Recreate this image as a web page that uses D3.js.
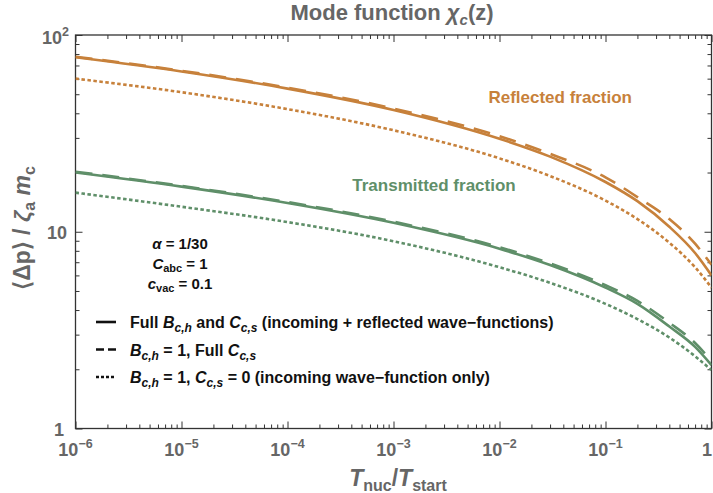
<!DOCTYPE html>
<html><head><meta charset="utf-8">
<script src="https://cdn.jsdelivr.net/npm/d3@7"></script>
<style>
body{margin:0;background:#fff;}
svg text{font-family:"Liberation Sans",Arial,sans-serif;font-weight:bold;}
</style></head>
<body><svg id="c" width="713" height="493"></svg>
<script>
// ---- data ----
const tRatio = [1e-6, 1e-5, 1e-4, 1e-3, 1e-2, 3e-2, 1e-1, 0.2, 0.4, 0.7, 1];
const reflFull   = [77, 65.3, 53.4, 41.6, 29.7, 24.1, 17.9, 14.3, 10.6, 7.8, 6.0];
const reflDashed = [77.5, 65.8, 54.0, 42.3, 30.6, 24.9, 18.9, 15.0, 11.6, 8.7, 6.8];
const reflDotted = [60, 51.2, 42.0, 32.8, 23.6, 19.2, 14.4, 11.6, 8.8, 6.6, 5.2];
const transFull   = [20.0, 16.95, 14.0, 11.1, 8.2, 6.77, 5.2, 4.3, 3.3, 2.6, 2.1];
const transDashed = [20.2, 17.1, 14.15, 11.25, 8.35, 6.9, 5.35, 4.45, 3.45, 2.72, 2.2];
const transDotted = [15.8, 13.4, 11.2, 8.95, 6.6, 5.5, 4.3, 3.6, 2.9, 2.33, 1.98];
const xTickExps = [-6, -5, -4, -3, -2, -1, 0];
const yTickExps = [0, 1, 2];
const legendLabels = ["full", "dashed", "dotted"];
const paramLines = ["alpha", "Cabc", "cvac"];

const orange = "#c7813b", green = "#5f8f69", gray = "#666666";
const L = 75.5, R = 711.5, T = 35, B = 428.5;

const svg = d3.select("#c");
const x = d3.scaleLog().domain([1e-6, 1]).range([L, R]);
const y = d3.scaleLog().domain([1, 100]).range([B, T]);

svg.append("clipPath").attr("id","clip").append("rect")
  .attr("x", L).attr("y", T).attr("width", R-L).attr("height", B-T);

const xMinor = [];
for (let e = -6; e < 0; e++) for (let k = 2; k <= 9; k++) xMinor.push(k * Math.pow(10, e));
const yMinor = [];
for (let e = 0; e < 2; e++) for (let k = 2; k <= 9; k++) yMinor.push(k * Math.pow(10, e));
const xMajor = xTickExps.map(e => Math.pow(10, e));
const yMajor = yTickExps.map(e => Math.pow(10, e));

const frameCol = "#333";
function addAxis(axisFn, scale, vals, size, transform){
  const g = svg.append("g").attr("transform", transform)
    .call(axisFn(scale).tickValues(vals).tickSize(size).tickFormat(""));
  g.select(".domain").remove();
  g.selectAll("line").attr("stroke", frameCol).attr("stroke-width", 1);
}
addAxis(d3.axisBottom, x, xMajor, -7, `translate(0,${B})`);
addAxis(d3.axisBottom, x, xMinor, -4, `translate(0,${B})`);
addAxis(d3.axisTop, x, xMajor, -7, `translate(0,${T})`);
addAxis(d3.axisTop, x, xMinor, -4, `translate(0,${T})`);
addAxis(d3.axisLeft, y, yMajor, -7, `translate(${L},0)`);
addAxis(d3.axisLeft, y, yMinor, -4, `translate(${L},0)`);
addAxis(d3.axisRight, y, yMajor, -7, `translate(${R},0)`);
addAxis(d3.axisRight, y, yMinor, -4, `translate(${R},0)`);

svg.append("rect").attr("x", L).attr("y", T).attr("width", R-L).attr("height", B-T)
  .attr("fill","none").attr("stroke", frameCol).attr("stroke-width", 1.3);

const line = d3.line().x(d => x(d[0])).y(d => y(d[1])).curve(d3.curveMonotoneX);
const series = [
  {v: reflFull, c: orange, dash: null},
  {v: reflDashed, c: orange, dash: "17,10"},
  {v: reflDotted, c: orange, dash: "3.5,2.5"},
  {v: transFull, c: green, dash: null},
  {v: transDashed, c: green, dash: "17,10"},
  {v: transDotted, c: green, dash: "3.5,2.5"},
];
const cg = svg.append("g").attr("clip-path","url(#clip)");
series.forEach(s => {
  cg.append("path").datum(tRatio.map((t,i)=>[t, s.v[i]]))
    .attr("d", line).attr("fill","none").attr("stroke", s.c)
    .attr("stroke-width", 2.6).attr("stroke-dasharray", s.dash);
});

// tick labels
const xl = svg.append("g").attr("fill", gray).attr("font-size", 18);
xTickExps.forEach(e => {
  const t = xl.append("text").attr("x", x(Math.pow(10,e))).attr("y", 456).attr("text-anchor", e===0 ? "end" : "middle");
  if (e === 0) { t.attr("x", 712).text("1"); }
  else { t.append("tspan").text("10"); t.append("tspan").attr("dy", -8).attr("font-size", 12.5).text("\u2212" + (-e)); }
});
yTickExps.forEach(e => {
  const t = xl.append("text").attr("x", 67).attr("y", y(Math.pow(10,e)) + 7).attr("text-anchor","end");
  if (e === 0) t.attr("x", 64).text("1");
  else if (e === 1) t.text("10");
  else { t.attr("x", 42).attr("y", 44).attr("text-anchor","start"); t.append("tspan").text("10"); t.append("tspan").attr("dy", -8).attr("font-size", 12.5).text("2"); }
});

// title
const title = svg.append("text").attr("x", 392).attr("y", 20).attr("text-anchor","middle")
  .attr("fill", gray).attr("font-size", 22);
title.append("tspan").text("Mode function ");
title.append("tspan").attr("font-style","italic").text("\u03c7");
title.append("tspan").attr("font-style","italic").attr("font-size", 15).attr("dy", 5).text("c");
title.append("tspan").attr("dy", -5).text("(z)");

// x label
const xlab = svg.append("text").attr("x", 398).attr("y", 486).attr("text-anchor","middle")
  .attr("fill", gray).attr("font-size", 23);
xlab.append("tspan").attr("font-style","italic").text("T");
xlab.append("tspan").attr("font-size", 16).attr("dy", 5).text("nuc");
xlab.append("tspan").attr("dy", -5).text("/");
xlab.append("tspan").attr("font-style","italic").text("T");
xlab.append("tspan").attr("font-size", 16).attr("dy", 5).text("start");

// y label
const ylab = svg.append("text").attr("transform", "translate(30,228) rotate(-90)").attr("text-anchor","middle")
  .attr("fill", gray).attr("font-size", 23);
ylab.append("tspan").text("\u27e8\u0394p\u27e9 / ");
ylab.append("tspan").attr("font-style","italic").text("\u03b6");
ylab.append("tspan").attr("font-size", 16).attr("dy", 5).text("a");
ylab.append("tspan").attr("dy", -5).text(" ");
ylab.append("tspan").attr("font-style","italic").text("m");
ylab.append("tspan").attr("font-size", 16).attr("dy", 5).text("c");

// annotations
svg.append("text").attr("x", 632).attr("y", 103).attr("text-anchor","end")
  .attr("fill", orange).attr("font-size", 17).text("Reflected fraction");
svg.append("text").attr("x", 434).attr("y", 191).attr("text-anchor","middle")
  .attr("fill", green).attr("font-size", 17).text("Transmitted fraction");

// parameter block
const pg = svg.append("g").attr("font-size", 15).attr("fill", "#111");
const pY = [249, 269, 289];
paramLines.forEach((k, i) => {
  const t = pg.append("text").attr("x", 180).attr("y", pY[i]).attr("text-anchor","middle");
  if (k === "alpha") { t.append("tspan").attr("font-style","italic").text("\u03b1"); t.append("tspan").text(" = 1/30"); }
  if (k === "Cabc") { t.append("tspan").attr("font-style","italic").text("C"); t.append("tspan").attr("font-size", 11).attr("dy", 3).text("abc"); t.append("tspan").attr("dy", -3).text(" = 1"); }
  if (k === "cvac") { t.append("tspan").attr("font-style","italic").text("c"); t.append("tspan").attr("font-size", 11).attr("dy", 3).text("vac"); t.append("tspan").attr("dy", -3).text(" = 0.1"); }
});

// legend
const lg = svg.append("g").attr("font-size", 16).attr("fill", "#111");
const lY = [322, 349.5, 377];
const dashes = [null, "8,4", "3,2"];
legendLabels.forEach((k, i) => {
  lg.append("line").attr("x1", 96).attr("x2", 116).attr("y1", lY[i]).attr("y2", lY[i])
    .attr("stroke", "#111").attr("stroke-width", 2.6).attr("stroke-dasharray", dashes[i]);
  const t = lg.append("text").attr("x", 130).attr("y", lY[i] + 6);
  const it = (s) => t.append("tspan").attr("font-style","italic").text(s);
  const sub = (s) => { t.append("tspan").attr("font-style","italic").attr("font-size", 12).attr("dy", 4).text(s); };
  const txt = (s, dy) => { const sp = t.append("tspan").text(s); if (dy) sp.attr("dy", dy); };
  if (k === "full") {
    txt("Full "); it("B"); sub("c,h"); txt(" and ", -4); it("C"); sub("c,s"); txt(" (incoming + reflected wave\u2212functions)", -4);
  } else if (k === "dashed") {
    it("B"); sub("c,h"); txt(" = 1, Full ", -4); it("C"); sub("c,s");
  } else {
    it("B"); sub("c,h"); txt(" = 1, ", -4); it("C"); sub("c,s"); txt(" = 0 (incoming wave\u2212function only)", -4);
  }
});
</script></body></html>
